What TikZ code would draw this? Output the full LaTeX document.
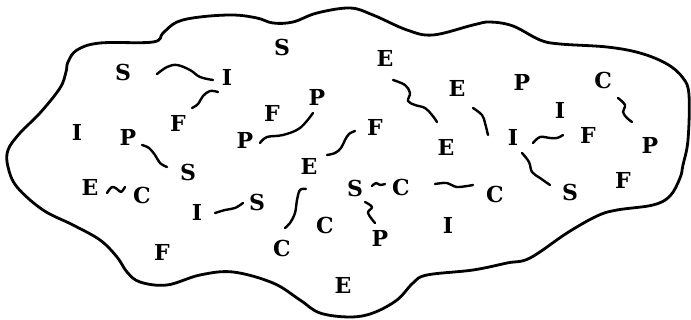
\documentclass[tikz,border=0pt]{standalone}
\usepackage{fontspec}
\setmainfont{DejaVu Serif}
\usetikzlibrary{calc}
\begin{document}
\begin{tikzpicture}[x=0.5pt,y=-0.5pt,
  ltr/.style={font=\fontsize{11}{11}\selectfont\bfseries, inner sep=0pt},
  wig/.style={line width=1.2pt, line cap=round, line join=round},
  blob/.style={line width=1.4pt, line join=round}]
\useasboundingbox (0,0) rectangle (691,320);
% outline
\draw[blob] plot[smooth cycle, tension=0.6] coordinates {
 (68,62) (77,50) (100,43) (153,42) (163,33) (177,22) (200,17) (233,15) (257,18)
 (273,23) (293,22) (317,13) (350,8) (373,15) (407,30) (433,35) (473,25) (490,22)
 (513,26) (540,40) (560,44) (607,47) (640,53) (667,64) (683,78) (689,95) (688,140)
 (683,165) (680,178) (670,196) (653,205) (617,210) (597,216) (567,233) (530,258)
 (507,263) (473,270) (427,275) (413,283) (397,300) (373,313) (350,317) (320,313)
 (300,300) (273,283) (233,272) (200,275) (167,285) (140,282) (127,272) (117,257)
 (100,240) (73,225) (43,210) (17,187) (8,167) (8,150) (20,133) (40,113) (60,88) (66,72)};
% letters
\node[ltr] (S1) at (123,72) {S};
\node[ltr] (I1) at (227,77) {I};
\node[ltr] (S2) at (282,47) {S};
\node[ltr] (E1) at (385,58) {E};
\node[ltr] (E2) at (457,88) {E};
\node[ltr] (P1) at (522,82) {P};
\node[ltr] (C1) at (603,80) {C};
\node[ltr] (I2) at (560,110) {I};
\node[ltr] (F1) at (178,123) {F};
\node[ltr] (F2) at (272,113) {F};
\node[ltr] (P2) at (317,97) {P};
\node[ltr] (I3) at (77,132) {I};
\node[ltr] (P3) at (128,137) {P};
\node[ltr] (P4) at (245,140) {P};
\node[ltr] (F3) at (375,127) {F};
\node[ltr] (E3) at (446,147) {E};
\node[ltr] (I4) at (513,137) {I};
\node[ltr] (F4) at (588,135) {F};
\node[ltr] (P5) at (650,145) {P};
\node[ltr] (S3) at (188,172) {S};
\node[ltr] (E4) at (309,166) {E};
\node[ltr] (E5) at (90,187) {E};
\node[ltr] (C2) at (142,195) {C};
\node[ltr] (S4) at (355,188) {S};
\node[ltr] (C3) at (401,187) {C};
\node[ltr] (C4) at (495,194) {C};
\node[ltr] (S5) at (570,192) {S};
\node[ltr] (F5) at (623,180) {F};
\node[ltr] (I5) at (197,212) {I};
\node[ltr] (S6) at (257,202) {S};
\node[ltr] (C5) at (325,225) {C};
\node[ltr] (P6) at (380,238) {P};
\node[ltr] (I6) at (448,225) {I};
\node[ltr] (F6) at (162,252) {F};
\node[ltr] (C6) at (282,248) {C};
\node[ltr] (E6) at (343,285) {E};
% wiggly connectors
\draw[wig] plot[smooth, tension=0.6] coordinates {($(S1)+(34,2)$) (167,67) (177,65) (190,70) (200,77) ($(I1)+(-14,3)$)};
\draw[wig] plot[smooth, tension=0.6] coordinates {($(F1)+(14,-15)$) (198,104) (203,96) (210,91) ($(I1)+(-9,15)$)};
\draw[wig] plot[smooth, tension=0.6] coordinates {($(P4)+(15,3)$) (267,137) (283,135) (300,128) ($(P2)+(-4,16)$)};
\draw[wig] plot[smooth, tension=0.6] coordinates {($(P3)+(14,8)$) (149,148) (155,155) (160,163) ($(S3)+(-21,-5)$)};
\draw[wig] plot[smooth, tension=0.6] coordinates {($(E4)+(18,-11)$) (335,153) (341,148) (345,140) (349,134) ($(F3)+(-20,4)$)};
\draw[wig] plot[smooth, tension=0.6] coordinates {($(E1)+(8,22)$) (405,85) (410,93) (408,101) (415,105) (425,108) (432,115) ($(E3)+(-9,-25)$)};
\draw[wig] plot[smooth, tension=0.6] coordinates {($(E2)+(16,20)$) (482,115) (485,123) ($(I4)+(-25,-2)$)};
\draw[wig] plot[smooth, tension=0.6] coordinates {($(I4)+(20,6)$) (540,137) (550,138) (557,138) ($(F4)+(-25,0)$)};
\draw[wig] plot[smooth, tension=0.6] coordinates {($(C1)+(15,18)$) (625,105) (623,112) (627,118) ($(P5)+(-18,-23)$)};
\draw[wig] plot[smooth, tension=0.6] coordinates {($(I4)+(9,16)$) (529,162) (532,172) (540,178) ($(S5)+(-20,-7)$)};
\draw[wig] plot[smooth, tension=0.6] coordinates {($(E5)+(17,6)$) (112,187) (117,189) (121,192) ($(C2)+(-17,-8)$)};
\draw[wig] plot[smooth, tension=0.6] coordinates {($(I5)+(18,1)$) (225,210) (235,208) ($(S6)+(-14,1)$)};
\draw[wig] plot[smooth, tension=0.6] coordinates {($(E4)+(-3,23)$) (300,190) (297,200) (295,213) (290,223) ($(C6)+(3,-20)$)};
\draw[wig] plot[smooth, tension=0.6] coordinates {($(S4)+(17,-2)$) (376,183) (380,185) ($(C3)+(-16,-3)$)};
\draw[wig] plot[smooth, tension=0.6] coordinates {($(S4)+(10,14)$) (372,207) (368,213) ($(P6)+(-5,-15)$)};
\draw[wig] plot[smooth, tension=0.6] coordinates {($(C3)+(34,-3)$) (447,183) (457,187) ($(C4)+(-22,-9)$)};
\end{tikzpicture}
\end{document}
